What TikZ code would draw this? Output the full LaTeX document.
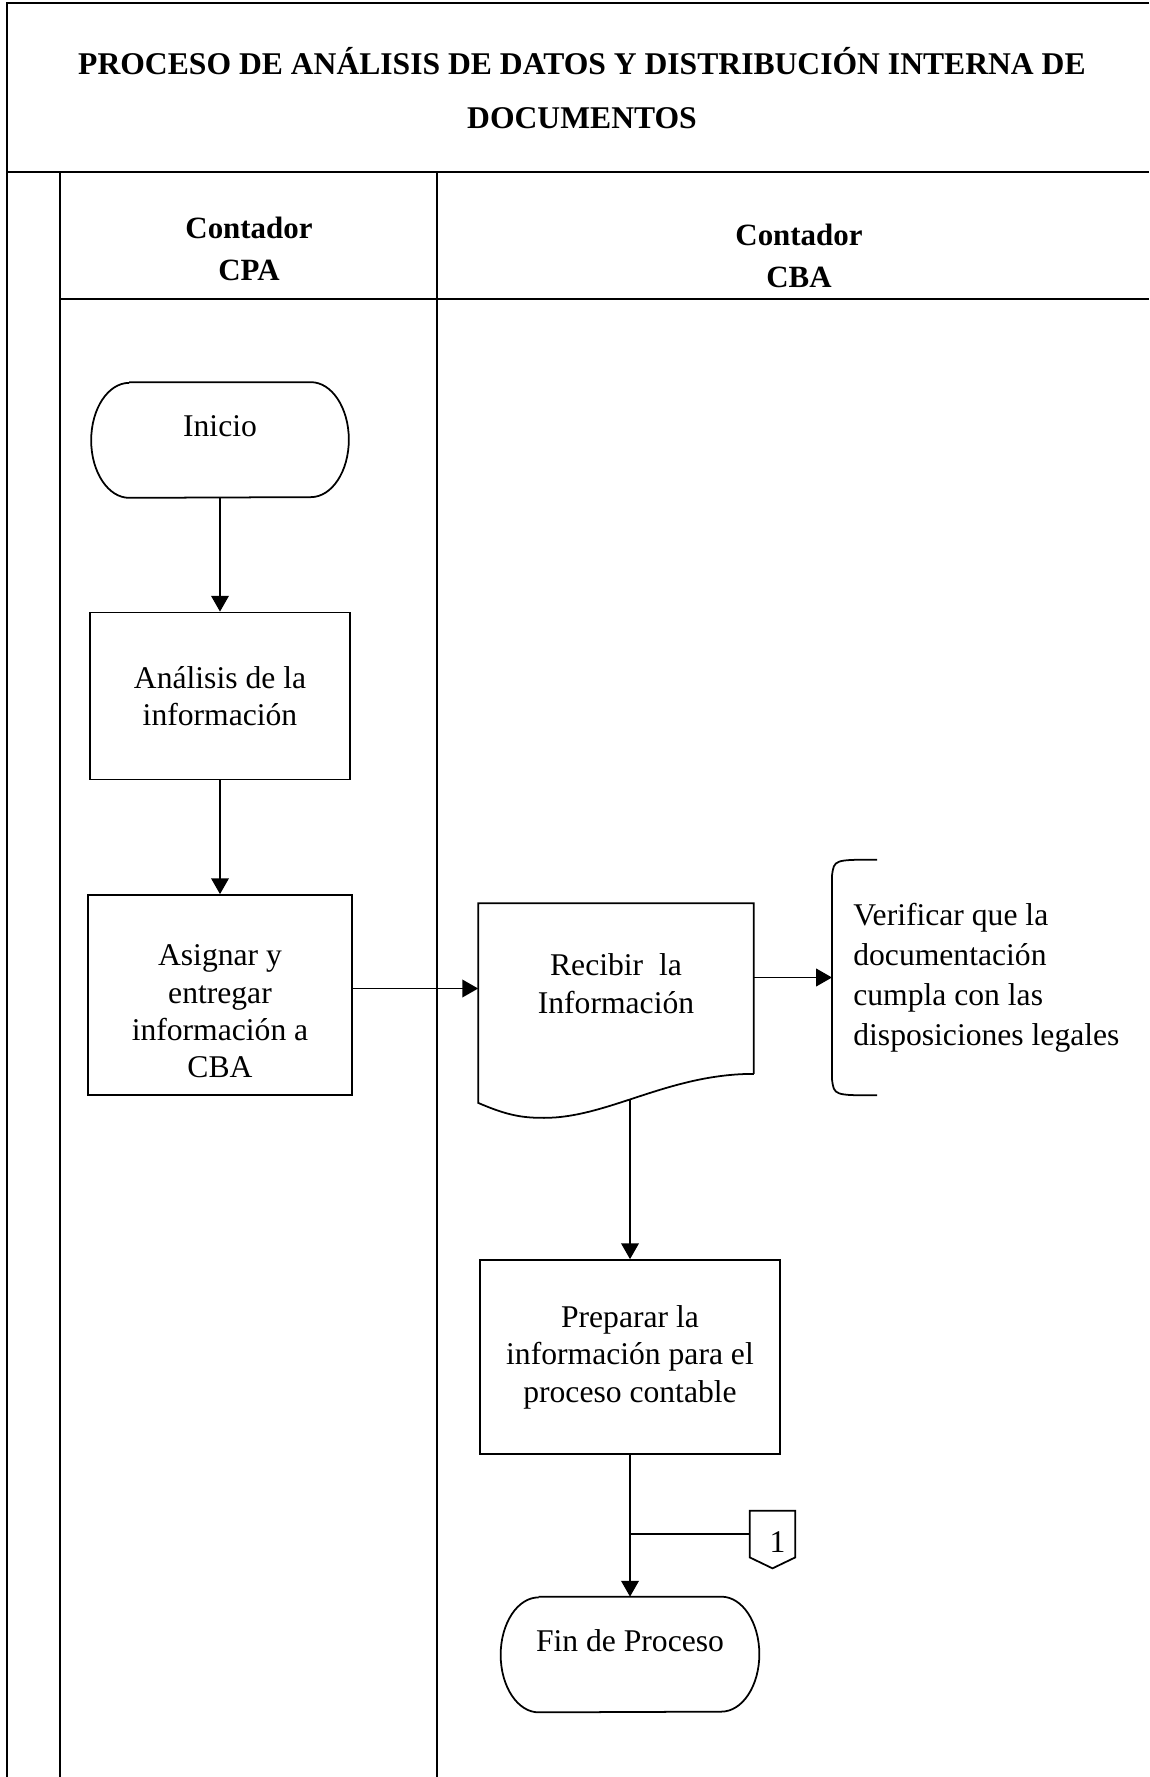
\documentclass[tikz,border=0pt]{standalone}
\usepackage{fontspec}
\setmainfont{Liberation Serif}
\usetikzlibrary{arrows.meta}
\begin{document}
\begin{tikzpicture}[x=0.02cm,y=-0.02cm,
        frame/.style={line width=1.25pt},
        line/.style={line width=1pt},
        txt/.style={font=\fontsize{18}{21.3}\selectfont},
        head/.style={align=center,font=\fontsize{17.6}{23.8}\selectfont\bfseries},
        box/.style={draw,line width=1pt,align=center,txt},
        term/.style={align=center,text depth=16pt,txt},
        arr/.style={line width=1pt,-{Triangle[width=10pt,length=9pt]}}]
        \useasboundingbox (0,0) rectangle (1149,1777);
        \draw[frame] (1149,3) -- (7,3) -- (7,1777)
                     (7,172) -- (1149,172)
                     (60,172) -- (60,1777)
                     (437,172) -- (437,1777)
                     (60,299) -- (1149,299);
        \node[align=center,font=\fontsize{18}{31}\selectfont\bfseries] (tit) at (582,88)
              {PROCESO DE ANÁLISIS DE DATOS Y DISTRIBUCIÓN INTERNA DE\\DOCUMENTOS};
        \node[head] (cpa) at (249,249) {Contador\\CPA};
        \node[head] (cba) at (799,256) {Contador\\CBA};
        \node[term,minimum width=5.14cm,minimum height=2.3cm] (ini) at (220,440) {Inicio};
        \node[box,minimum width=5.2cm,minimum height=3.34cm] (ana) at (220,696) {Análisis de la\\información};
        \node[box,text height=94.6pt,minimum width=5.28cm,minimum height=4cm] (asi) at (220,995) {Asignar y\\entregar\\información a\\CBA};
        \node[box,draw=none,text depth=5.7pt,minimum width=5.48cm,minimum height=3.38cm] (rec) at (616,988.5) {Recibir\ \ la\\Información};
        \node[align=left,anchor=west,inner xsep=0.42cm,minimum height=4.7cm,font=\fontsize{18}{22.7}\selectfont] (ver) at (832,977.5)
              {Verificar que la\\documentación\\cumpla con las\\disposiciones legales};
        \node[box,minimum width=6cm,minimum height=3.88cm] (pre) at (630,1357) {Preparar la\\información para el\\proceso contable};
        \node[txt,text height=21pt,minimum width=0.9cm,minimum height=0.92cm,inner sep=0pt] (con) at (772.5,1534) {\hspace*{0.2cm}1};
        \node[term,minimum width=5.16cm,minimum height=2.3cm] (fin) at (630,1654.5) {Fin de Proceso};
        \coordinate (w) at (630,1099);
        \foreach \n in {ini,fin}
            \draw[line] ([xshift=0.76cm]\n.north west) -- ([xshift=-0.76cm]\n.north east)
                arc[start angle=90,end angle=-90,x radius=0.76cm,y radius=1.15cm]
                -- ([xshift=0.76cm]\n.south west)
                arc[start angle=270,end angle=90,x radius=0.76cm,y radius=1.15cm];
        \draw[line] (rec.south east) -- (rec.north east) -- (rec.north west) -- ([shift={(0,29)}]rec.south west)
              .. controls ([shift={(30,42)}]rec.south west) and ([shift={(45,44)}]rec.south west) .. ([shift={(66,44)}]rec.south west)
              .. controls ([shift={(130,44)}]rec.south west) and ([shift={(190,0)}]rec.south west) .. (rec.south east);
        \draw[line] ([shift={(45,0)}]ver.north west) .. controls ([shift={(2,0)}]ver.north west) .. ([shift={(0,16)}]ver.north west)
              -- ([shift={(0,-16)}]ver.south west) .. controls ([shift={(2,0)}]ver.south west) .. ([shift={(45,0)}]ver.south west);
        \draw[line] (con.north west) -- (con.north east) -- (con.south east) -- ([shift={(0,11)}]con.south) -- (con.south west) -- cycle;
        \draw[arr]  (ini) -- (ana);
        \draw[arr]  (ana) -- (asi);
        \draw[arr]  (asi.east |- rec.west) -- (rec.west);
        \draw[arr]  (rec.east |- ver.west) -- (ver.west);
        \draw[arr]  (w) -- (pre);
        \draw[arr]  (pre) -- (fin);
        \draw[line] (con.west -| pre.south) -- (con.west);
\end{tikzpicture}
\end{document}
